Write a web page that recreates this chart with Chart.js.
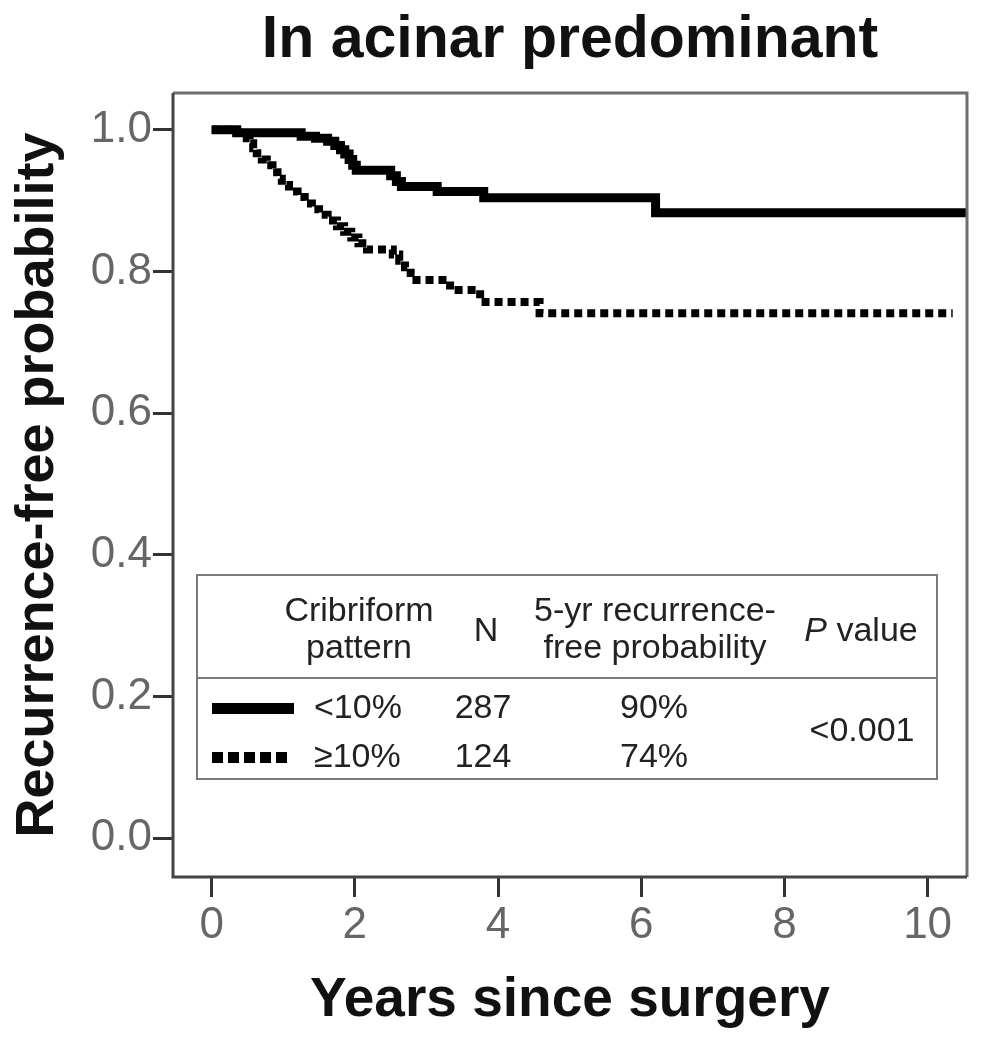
<!DOCTYPE html>
<html><head><meta charset="utf-8">
<script src="https://cdn.jsdelivr.net/npm/chart.js@4.4.1/dist/chart.umd.min.js"></script>
<style>html,body{margin:0;padding:0;background:#fff;}canvas{display:block;}</style>
</head><body>
<canvas id="c" width="984" height="1050"></canvas>
<script>
const FONT = "'Liberation Sans', Arial, Helvetica, sans-serif";

const chartTitle = "In acinar predominant";
const xAxisTitle = "Years since surgery";
const yAxisTitle = "Recurrence-free probability";
const xTickValues = [0, 2, 4, 6, 8, 10];
const yTickValues = [0, 0.2, 0.4, 0.6, 0.8, 1.0];

// <10% cribriform (solid)
const lowTimes = [0, 0.35, 1.25, 1.45, 1.62, 1.72, 1.80, 1.86, 1.92, 1.97, 2.02, 2.50, 2.58, 2.65, 3.15, 3.80, 6.20, 10.55];
const lowSurv  = [1.0, 0.996, 0.991, 0.988, 0.984, 0.978, 0.972, 0.966, 0.958, 0.950, 0.943, 0.935, 0.927, 0.920, 0.913, 0.904, 0.883, 0.883];

// >=10% cribriform (dotted)
const highTimes = [0, 0.35, 0.49, 0.53, 0.58, 0.63, 0.70, 0.77, 0.85, 0.92, 0.98, 1.08, 1.20, 1.30, 1.40, 1.50, 1.62, 1.75, 1.85, 1.95, 2.05, 2.17, 2.53, 2.62, 2.70, 2.78, 2.86, 3.33, 3.75, 4.58, 10.35];
const highSurv  = [1.0, 0.996, 0.988, 0.981, 0.974, 0.967, 0.958, 0.950, 0.940, 0.931, 0.922, 0.913, 0.905, 0.896, 0.888, 0.880, 0.872, 0.864, 0.856, 0.848, 0.840, 0.831, 0.824, 0.815, 0.806, 0.798, 0.788, 0.774, 0.757, 0.741, 0.741];

// legend table
const groupLabels = ["<10%", "\u226510%"];
const groupN = ["287", "124"];
const groupFiveYear = ["90%", "74%"];
const pValueText = "<0.001";

const toPts = (t, s) => t.map((v, i) => ({x: v, y: s[i]}));

const framePlugin = {
  id: 'frame',
  afterDatasetsDraw(chart) {
    const {ctx, chartArea: a} = chart;
    ctx.save();
    ctx.lineWidth = 3;
    ctx.strokeStyle = '#6e6e6e';
    ctx.beginPath();
    ctx.moveTo(a.left, a.top); ctx.lineTo(a.right, a.top); ctx.lineTo(a.right, a.bottom);
    ctx.stroke();
    ctx.strokeStyle = '#444';
    ctx.beginPath();
    ctx.moveTo(a.left, a.top); ctx.lineTo(a.left, a.bottom); ctx.lineTo(a.right, a.bottom);
    ctx.stroke();
    ctx.restore();
  }
};

const legendPlugin = {
  id: 'kmLegend',
  afterDatasetsDraw(chart) {
    const {ctx, chartArea: a} = chart;
    const L = a.left + 24, R = a.left + 764, T = a.top + 482, B = a.top + 686;
    const div = a.top + 585;
    ctx.save();
    ctx.fillStyle = '#fff';
    ctx.fillRect(L, T, R - L, B - T);
    ctx.strokeStyle = '#7a7a7a';
    ctx.lineWidth = 2;
    ctx.strokeRect(L, T, R - L, B - T);
    ctx.beginPath(); ctx.moveTo(L, div); ctx.lineTo(R, div); ctx.stroke();

    ctx.fillStyle = '#222';
    ctx.font = `34px ${FONT}`;
    ctx.textBaseline = 'middle';
    ctx.textAlign = 'center';
    const cx1 = L + 162, cxN = L + 289, cx5 = L + 458, cxP = L + 664;
    const h1 = T + 37, h2 = T + 74, hm = T + 57;
    ctx.fillText("Cribriform", cx1, h1);
    ctx.fillText("pattern", cx1, h2);
    ctx.fillText("N", cxN, hm);
    ctx.fillText("5-yr recurrence-", cx5, h1);
    ctx.fillText("free probability", cx5, h2);
    // "P value" with italic P
    ctx.font = `italic 34px ${FONT}`;
    const wP = ctx.measureText("P").width;
    ctx.font = `34px ${FONT}`;
    const wV = ctx.measureText(" value").width;
    const startP = cxP - (wP + wV) / 2;
    ctx.textAlign = 'left';
    ctx.font = `italic 34px ${FONT}`;
    ctx.fillText("P", startP, hm);
    ctx.font = `34px ${FONT}`;
    ctx.fillText(" value", startP + wP, hm);

    const rows = [T + 134, T + 183];
    for (let i = 0; i < groupLabels.length; i++) {
      ctx.textAlign = 'left';
      ctx.fillText(groupLabels[i], L + 117, rows[i]);
      ctx.textAlign = 'center';
      ctx.fillText(groupN[i], L + 286, rows[i]);
      ctx.fillText(groupFiveYear[i], L + 457, rows[i]);
    }
    ctx.fillText(pValueText, cxP + 1, T + 157);

    // line samples
    ctx.fillStyle = '#000';
    ctx.fillRect(L + 15, rows[0] - 6, 82, 11);
    for (let k = 0; k < 5; k++) {
      ctx.fillRect(L + 15 + k * 16, rows[1] - 6, 11, 11);
    }
    ctx.restore();
  }
};

new Chart(document.getElementById('c'), {
  type: 'line',
  data: {
    datasets: [
      {
        label: '<10%',
        data: toPts(lowTimes, lowSurv),
        borderColor: '#000',
        borderWidth: 9,
        stepped: true,
        pointRadius: 0,
        fill: false,
        borderJoinStyle: 'miter',
        borderCapStyle: 'butt'
      },
      {
        label: '\u226510%',
        data: toPts(highTimes, highSurv),
        borderColor: '#000',
        borderWidth: 8,
        borderDash: [8, 5],
        stepped: true,
        pointRadius: 0,
        fill: false,
        borderJoinStyle: 'miter',
        borderCapStyle: 'butt'
      }
    ]
  },
  options: {
    responsive: false,
    animation: false,
    layout: {padding: {left: 0, right: 17, top: 0, bottom: 0}},
    plugins: {
      legend: {display: false},
      tooltip: {enabled: false},
      title: {
        display: true,
        text: chartTitle,
        fullSize: false,
        color: '#111',
        font: {family: FONT, size: 59, weight: 'bold', lineHeight: 1.0},
        padding: {top: 11, bottom: 23}
      }
    },
    scales: {
      x: {
        type: 'linear',
        min: -0.54,
        max: 10.55,
        afterBuildTicks: s => { s.ticks = xTickValues.map(v => ({value: v})); },
        afterFit: s => { s.height = 173; },
        ticks: {
          color: '#666',
          font: {family: FONT, size: 44},
          padding: 2,
          maxRotation: 0,
          autoSkip: false,
          callback: v => String(v)
        },
        grid: {drawOnChartArea: false, drawTicks: true, tickLength: 20, color: '#333', lineWidth: 3},
        border: {display: false},
        title: {
          display: true,
          text: xAxisTitle,
          color: '#111',
          font: {family: FONT, size: 55, weight: 'bold'},
          padding: {top: 0, bottom: 16}
        }
      },
      y: {
        type: 'linear',
        min: -0.055,
        max: 1.052,
        afterBuildTicks: s => { s.ticks = yTickValues.map(v => ({value: v})); },
        afterFit: s => { s.width = 173; },
        ticks: {
          color: '#666',
          font: {family: FONT, size: 44},
          padding: 1,
          autoSkip: false,
          callback: v => Number(v).toFixed(1)
        },
        grid: {drawOnChartArea: false, drawTicks: true, tickLength: 20, color: '#333', lineWidth: 3},
        border: {display: false},
        title: {
          display: true,
          text: yAxisTitle,
          color: '#111',
          font: {family: FONT, size: 54, weight: 'bold'},
          padding: {top: 5.6, bottom: 0}
        }
      }
    }
  },
  plugins: [framePlugin, legendPlugin]
});
</script>
</body></html>
